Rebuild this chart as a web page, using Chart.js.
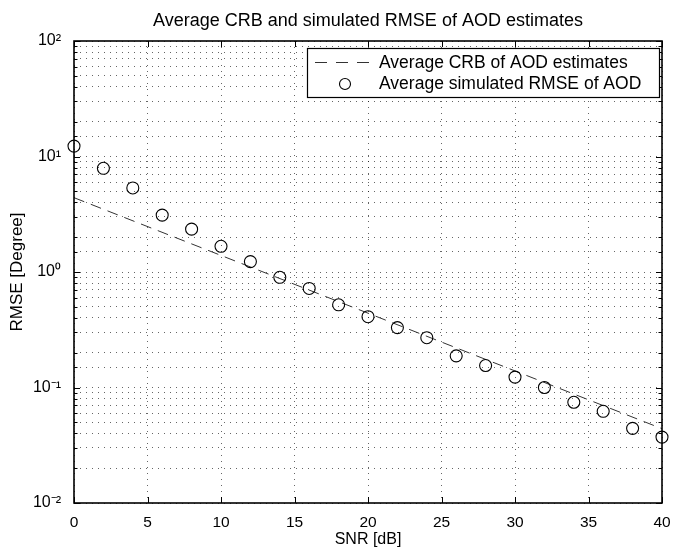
<!DOCTYPE html>
<html>
<head>
<meta charset="utf-8">
<script src="https://cdn.jsdelivr.net/npm/chart.js@4.4.1/dist/chart.umd.min.js"></script>
<style>
  html, body { margin: 0; padding: 0; background: #fff; }
  #wrap { width: 674px; height: 549px; position: relative; }
</style>
</head>
<body>
<div id="wrap"><canvas id="c" width="674" height="549"></canvas></div>
<script>
// ---- data ----
const snrDb = [0, 2, 4, 6, 8, 10, 12, 14, 16, 18, 20, 22, 24, 26, 28, 30, 32, 34, 36, 38, 40];
const rmseAod = [12.3, 7.9, 5.34, 3.11, 2.35, 1.67, 1.23, 0.90, 0.72, 0.52, 0.41, 0.33, 0.27, 0.188, 0.155, 0.123, 0.100, 0.0745, 0.0622, 0.0443, 0.0372];
const crbSnr = [0, 40];
const crbAod = [4.4, 0.044];
const xTicks = [0, 5, 10, 15, 20, 25, 30, 35, 40];
const yTickLabels = { '100': '10²', '10': '10¹', '1': '10⁰', '0.1': '10⁻¹', '0.01': '10⁻²' };

const titleText = 'Average CRB and simulated RMSE of AOD estimates';
const legendLabels = ['Average CRB of AOD estimates', 'Average simulated RMSE of AOD'];
const FONT = 'Liberation Sans, Arial, Helvetica, sans-serif';

function isDecade(v) {
  const l = Math.log10(v);
  return Math.abs(l - Math.round(l)) < 1e-9;
}

const framePlugin = {
  id: 'frame',
  afterDraw(chart) {
    const ctx = chart.ctx;
    const a = chart.chartArea;
    const xs = chart.scales.x, ys = chart.scales.y;
    ctx.save();
    // title
    ctx.fillStyle = '#000';
    ctx.font = '18px ' + FONT;
    ctx.textAlign = 'center';
    ctx.textBaseline = 'alphabetic';
    ctx.fillText(titleText, (a.left + a.right) / 2, 26);
    // axes box
    ctx.strokeStyle = '#000';
    ctx.lineWidth = 1.6;
    ctx.strokeRect(a.left, a.top, a.right - a.left, a.bottom - a.top);
    // inward tick marks
    ctx.lineWidth = 1;
    ctx.beginPath();
    xs.ticks.forEach(t => {
      const px = Math.round(xs.getPixelForValue(t.value)) + 0.5;
      ctx.moveTo(px, a.bottom); ctx.lineTo(px, a.bottom - 6);
      ctx.moveTo(px, a.top); ctx.lineTo(px, a.top + 6);
    });
    ys.ticks.forEach(t => {
      const py = Math.round(ys.getPixelForValue(t.value)) + 0.5;
      const len = isDecade(t.value) ? 6 : 3.5;
      ctx.moveTo(a.left, py); ctx.lineTo(a.left + len, py);
      ctx.moveTo(a.right, py); ctx.lineTo(a.right - len, py);
    });
    ctx.stroke();
    // legend
    const lx = 307, ly = 48, lw = 352, lh = 49;
    ctx.fillStyle = '#fff';
    ctx.fillRect(lx, ly, lw, lh);
    ctx.lineWidth = 1.2;
    ctx.strokeStyle = '#000';
    ctx.strokeRect(lx + 0.5, ly + 0.5, lw, lh);
    ctx.font = '17.5px ' + FONT;
    ctx.fillStyle = '#000';
    ctx.textAlign = 'left';
    ctx.textBaseline = 'middle';
    // row 1: dashed line sample
    ctx.strokeStyle = '#333';
    ctx.lineWidth = 1;
    ctx.beginPath();
    [[315, 327], [336, 348], [357, 369]].forEach(([s, e]) => { ctx.moveTo(s, 62.5); ctx.lineTo(e, 62.5); });
    ctx.stroke();
    ctx.fillText(legendLabels[0], 379, 63);
    // row 2: circle sample
    ctx.strokeStyle = '#000';
    ctx.lineWidth = 1.1;
    ctx.beginPath();
    ctx.arc(345, 84, 5.5, 0, Math.PI * 2);
    ctx.stroke();
    ctx.fillText(legendLabels[1], 379, 84);
    ctx.restore();
  }
};

new Chart(document.getElementById('c'), {
  type: 'scatter',
  data: {
    datasets: [
      {
        label: legendLabels[0],
        data: crbSnr.map((x, i) => ({ x, y: crbAod[i] })),
        showLine: true,
        borderColor: '#333',
        borderWidth: 1,
        borderDash: [11, 7],
        pointRadius: 0,
        fill: false,
        order: 2
      },
      {
        label: legendLabels[1],
        data: snrDb.map((x, i) => ({ x, y: rmseAod[i] })),
        showLine: false,
        borderColor: '#000',
        backgroundColor: 'rgba(0,0,0,0)',
        borderWidth: 1.1,
        pointRadius: 6,
        pointStyle: 'circle',
        clip: false,
        order: 1
      }
    ]
  },
  options: {
    responsive: false,
    animation: false,
    devicePixelRatio: 1,
    layout: { padding: { top: 41, right: 12, left: 0, bottom: 0 } },
    plugins: {
      legend: { display: false },
      title: { display: false },
      tooltip: { enabled: false }
    },
    scales: {
      x: {
        type: 'linear',
        min: 0, max: 40,
        afterBuildTicks: s => { s.ticks = xTicks.map(v => ({ value: v })); },
        afterFit: s => { s.height = 46; s.paddingLeft = 0; s.paddingRight = 0; },
        ticks: { font: { family: FONT, size: 15.5 }, color: '#000', padding: 10, maxRotation: 0 },
        grid: { color: 'rgba(0,0,0,0.6)', lineWidth: 1, drawTicks: false },
        border: { display: false, dash: [1, 5] },
        title: { display: true, text: 'SNR [dB]', font: { family: FONT, size: 16 }, color: '#000', padding: { top: 0, bottom: 0 } }
      },
      y: {
        type: 'logarithmic',
        min: 0.01, max: 100,
        afterFit: s => { s.width = 74; s.paddingTop = 0; s.paddingBottom = 0; },
        ticks: {
          autoSkip: false,
          font: { family: FONT, size: 16 },
          color: '#000',
          padding: 13,
          callback: (v) => isDecade(v) ? yTickLabels[String(Number(v))] : ''
        },
        grid: { color: 'rgba(0,0,0,0.6)', lineWidth: 1, drawTicks: false },
        border: { display: false, dash: [1, 5] },
        title: { display: true, text: 'RMSE [Degree]', font: { family: FONT, size: 17 }, color: '#000', padding: { top: 7, bottom: 0 } }
      }
    }
  },
  plugins: [framePlugin]
});
</script>
</body>
</html>
